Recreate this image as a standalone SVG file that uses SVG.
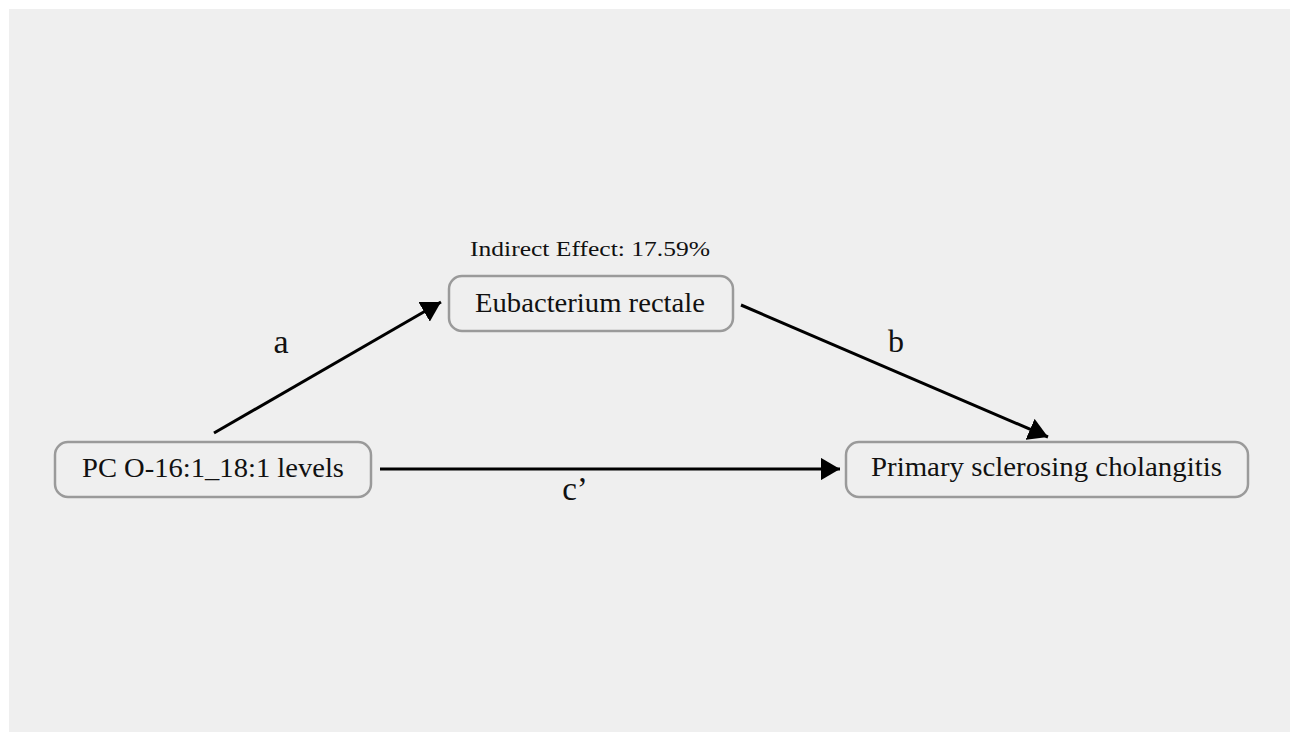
<svg xmlns="http://www.w3.org/2000/svg" width="1290" height="732" viewBox="0 0 1290 732">
<defs>
<marker id="ah" viewBox="0 0 10 10" refX="10" refY="5" markerWidth="6.5" markerHeight="7.6" markerUnits="strokeWidth" orient="auto" preserveAspectRatio="none">
<path d="M0,0 L10,5 L0,10 z" fill="#000"/>
</marker>
</defs>
<style>
.box{fill:none;stroke:#9a9a9a;stroke-width:2.5}
.lbl{font-family:"Liberation Serif","Times New Roman",serif;fill:#111;text-anchor:middle}
.edge{stroke:#000;stroke-width:3;fill:none;marker-end:url(#ah)}
</style>
<rect x="0" y="0" width="1290" height="732" fill="#fff"/>
<rect x="9" y="9" width="1281" height="723" fill="#efefef"/>
<g id="connectors">
<line class="edge" x1="214" y1="433" x2="441" y2="302"/>
<line class="edge" x1="741" y1="305" x2="1048" y2="437"/>
<line class="edge" x1="380" y1="469" x2="840" y2="469"/>
<text class="lbl" x="281" y="353" font-size="34">a</text>
<text class="lbl" x="896" y="352" font-size="32">b</text>
<text class="lbl" x="575" y="500" font-size="33">c’</text>
</g>
<g id="mediator">
<text class="lbl" x="590" y="256" font-size="20" textLength="240" lengthAdjust="spacingAndGlyphs">Indirect Effect: 17.59%</text>
<rect class="box" x="449" y="276" width="284" height="55" rx="13"/>
<text class="lbl" x="590" y="312" font-size="27" textLength="230" lengthAdjust="spacingAndGlyphs">Eubacterium rectale</text>
</g>
<g id="exposure">
<rect class="box" x="55" y="442" width="316" height="55" rx="13"/>
<text class="lbl" x="213" y="477" font-size="27" textLength="262" lengthAdjust="spacingAndGlyphs">PC O-16:1_18:1 levels</text>
</g>
<g id="outcome">
<rect class="box" x="846" y="442" width="402" height="55" rx="13"/>
<text class="lbl" x="1046.5" y="476" font-size="27" textLength="351" lengthAdjust="spacingAndGlyphs">Primary sclerosing cholangitis</text>
</g>
</svg>
